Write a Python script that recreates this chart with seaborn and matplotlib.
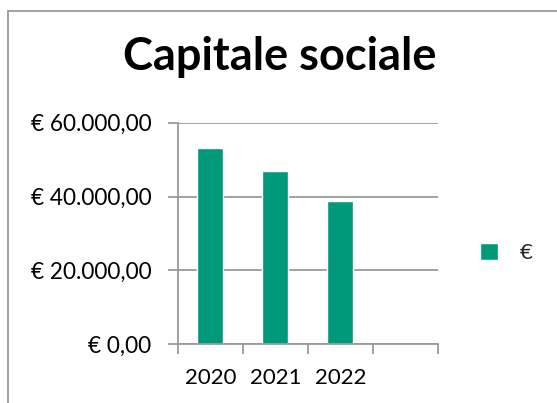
import matplotlib
matplotlib.use("Agg")
import matplotlib.pyplot as plt
from matplotlib.lines import Line2D
from matplotlib.ticker import FixedLocator, NullFormatter
import seaborn as sns
import pandas as pd

# Share capital per year (EUR)
years = ["2020", "2021", "2022", ""]
capitale = [53200, 46900, 38700, None]
series_name = "€"
y_ticks = [0, 20000, 40000, 60000]
y_tick_labels = ["€ 0,00", "€ 20.000,00", "€ 40.000,00", "€ 60.000,00"]

GREEN = "#009A7B"
GRID = "#9A9A9A"

sns.set_theme(style="white")
plt.rcParams["font.family"] = ["Lato", "DejaVu Sans"]

df = pd.DataFrame({"anno": years, "valore": capitale, "serie": series_name})

fig = plt.figure(figsize=(5.57, 4.03), dpi=100)
ax = fig.add_axes([178 / 557, 58.7 / 403, 259.7 / 557, 221.6 / 403])

sns.barplot(data=df, x="anno", y="valore", hue="serie", order=years,
            palette=[GREEN], width=0.4, ax=ax, saturation=1, legend=True)

ax.set_xlim(-0.5, len(years) - 0.5)
ax.set_ylim(0, 60000)
ax.set_yticks(y_ticks)
ax.set_yticklabels(y_tick_labels, fontsize=16.3, color="black")
ax.yaxis.grid(True, color=GRID, linewidth=1.3)
ax.set_axisbelow(True)

# Category boundaries get tick marks, labels sit in between
ax.xaxis.set_major_locator(FixedLocator([i - 0.5 for i in range(len(years) + 1)]))
ax.xaxis.set_major_formatter(NullFormatter())
ax.xaxis.set_minor_locator(FixedLocator(list(range(len(years)))))
ax.set_xticklabels(years, minor=True, fontsize=16, color="black")
ax.tick_params(axis="x", which="major", direction="out", length=7,
               width=1.3, color=GRID, bottom=True)
ax.tick_params(axis="x", which="minor", length=0, pad=17)
ax.tick_params(axis="y", direction="out", length=7, width=1.3,
               color=GRID, left=True, pad=12)

for side in ("top", "right"):
    ax.spines[side].set_visible(False)
for side in ("left", "bottom"):
    ax.spines[side].set_color(GRID)
    ax.spines[side].set_linewidth(1.3)

ax.set_xlabel("")
ax.set_ylabel("")

handles, labels = ax.get_legend_handles_labels()
ax.legend(handles, labels, loc="center left",
          bbox_to_anchor=(480 / 557, 1 - 253 / 403),
          bbox_transform=fig.transFigure, frameon=False, fontsize=16,
          handlelength=0.8, handleheight=0.8, handletextpad=1.0,
          borderaxespad=0, borderpad=0)

fig.text(0.503, 1 - 57 / 403, "Capitale sociale",
         ha="center", va="center", fontsize=32.5, fontweight="bold", color="black")

# Chart frame edges
fig.add_artist(Line2D([8 / 557, 1], [1 - 10.5 / 403, 1 - 10.5 / 403],
                      transform=fig.transFigure, color=GRID, linewidth=1.3))
fig.add_artist(Line2D([8 / 557, 8 / 557], [0, 1 - 10.5 / 403],
                      transform=fig.transFigure, color=GRID, linewidth=1.3))

fig.savefig("out.png", dpi=100, facecolor="white")
